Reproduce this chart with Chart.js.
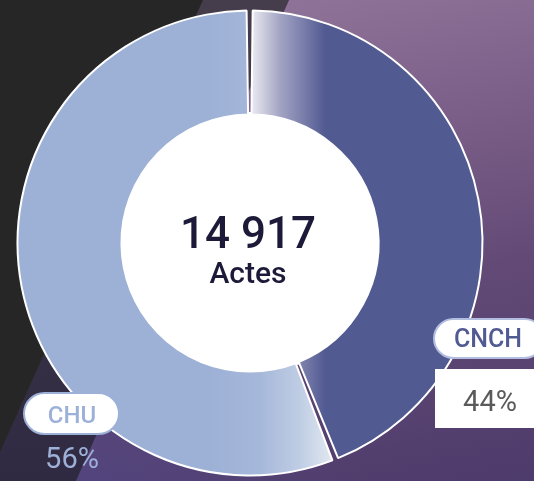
<!DOCTYPE html>
<html>
<head>
<meta charset="utf-8">
<script src="https://cdn.jsdelivr.net/npm/chart.js@4/dist/chart.umd.min.js"></script>
<style>
html,body{margin:0;padding:0;width:534px;height:481px;overflow:hidden;font-family:Roboto,'Noto Sans',sans-serif;}
#stage{position:relative;width:534px;height:481px;overflow:hidden;background:#262626;}
.band{position:absolute;left:0;top:0;width:534px;height:481px;}
#b2{clip-path:polygon(203px 0,289px 0,76px 481px,-13px 481px);background:linear-gradient(to bottom,#463d4c,#2f2a42);}
#b3{clip-path:polygon(289px 0,534px 0,534px 481px,76px 481px);
  background:
   radial-gradient(ellipse 260px 160px at 90px 481px, rgba(78,70,135,0.55), rgba(78,70,135,0) 100%),
   linear-gradient(168deg,#967b9d 0%,#80638c 30%,#634a76 62%,#4d3b6b 100%);}
#chartwrap{position:absolute;left:0;top:0;width:534px;height:481px;}
.box{position:absolute;background:#fff;box-sizing:border-box;}
.txt{position:absolute;white-space:nowrap;text-align:center;}
</style>
</head>
<body>
<div id="stage">
  <div class="band" id="b2"></div>
  <div class="band" id="b3"></div>
  <div id="chartwrap"><canvas id="c" width="534" height="481"></canvas></div>
  <div class="box" id="pill0" style="left:433px;top:318px;width:112px;height:41px;border-radius:21px;border:2px solid #b3bde0;"></div>
  <div class="box" id="val0box" style="left:435px;top:369px;width:110px;height:59px;"></div>
  <div class="box" id="pill1" style="left:23px;top:392px;width:97px;height:43px;border-radius:22px;border:2px solid #9db0d8;"></div>
  <div class="txt" id="lab0" style="left:438px;width:100px;top:326px;font-size:25px;line-height:25px;font-weight:500;color:#525a92;"></div>
  <div class="txt" id="val0" style="left:440px;width:100px;top:387px;font-size:29px;line-height:29px;font-weight:400;color:#5a5a5a;"></div>
  <div class="txt" id="lab1" style="left:22px;width:100px;top:403px;font-size:24px;line-height:24px;font-weight:500;color:#9db0d8;"></div>
  <div class="txt" id="val1" style="left:22px;width:100px;top:444px;font-size:29px;line-height:29px;font-weight:400;color:#9db0d8;"></div>
  <div class="txt" id="total" style="left:150px;width:196px;top:211px;font-size:44px;line-height:44px;font-weight:500;color:#1c1a38;"></div>
  <div class="txt" id="unit" style="left:150px;width:196px;top:258px;font-size:30px;line-height:30px;font-weight:500;color:#1c1a38;"></div>
</div>
<script>
// ---- data ----
const categories = ['CNCH', 'CHU'];
const shares = [44, 56];
const totalActs = 14917;
const totalUnit = 'Actes';

// ---- text ----
function groupThousands(n){ return String(n).replace(/\B(?=(\d{3})+(?!\d))/g, ' '); }
document.getElementById('total').textContent = groupThousands(totalActs);
document.getElementById('unit').textContent = totalUnit;
document.getElementById('lab0').textContent = categories[0];
document.getElementById('lab1').textContent = categories[1];
document.getElementById('val0').textContent = shares[0] + '%';
document.getElementById('val1').textContent = shares[1] + '%';

// ---- gradients (horizontal, relative to the chart centre) ----
const gradientStops = [
  [[0,'#eeeef4'],[30,'#a3a4c4'],[75,'#525a92']],
  [[-40,'#9db0d6'],[10,'#a6b8da'],[50,'#bfcde4'],[86,'#e6ebf3']]
];
function segmentFill(ctx){
  const chart = ctx.chart;
  const area = chart.chartArea;
  const stops = gradientStops[ctx.dataIndex] || gradientStops[0];
  if(!area) return stops[stops.length-1][1];
  const cx = (area.left + area.right) / 2;
  const x0 = cx + stops[0][0], x1 = cx + stops[stops.length-1][0];
  const g = chart.ctx.createLinearGradient(x0, 0, x1, 0);
  stops.forEach(s => g.addColorStop((s[0]-stops[0][0])/(x1-x0), s[1]));
  return g;
}

const centreFill = {
  id: 'centreFill',
  beforeDatasetsDraw(chart){
    const arc = chart.getDatasetMeta(0).data[0];
    if(!arc) return;
    const sp = chart.data.datasets[0].spacing || 0;
    const c = chart.ctx;
    c.save();
    c.beginPath();
    c.arc(arc.x, arc.y, arc.innerRadius + sp + 1, 0, Math.PI*2);
    c.fillStyle = '#ffffff';
    c.fill();
    c.restore();
  }
};

new Chart(document.getElementById('c'), {
  type: 'doughnut',
  data: {
    labels: categories,
    datasets: [{
      data: shares,
      backgroundColor: segmentFill,
      borderColor: '#ffffff',
      borderWidth: 2,
      spacing: 3,
      hoverOffset: 0
    }]
  },
  options: {
    responsive: false,
    animation: false,
    devicePixelRatio: 1,
    events: [],
    cutout: '55%',
    radius: 231,
    layout: { padding: { left: 15, right: 49, top: 8, bottom: 3 } },
    plugins: { legend: { display: false }, tooltip: { enabled: false } }
  },
  plugins: [centreFill]
});
</script>
</body>
</html>
